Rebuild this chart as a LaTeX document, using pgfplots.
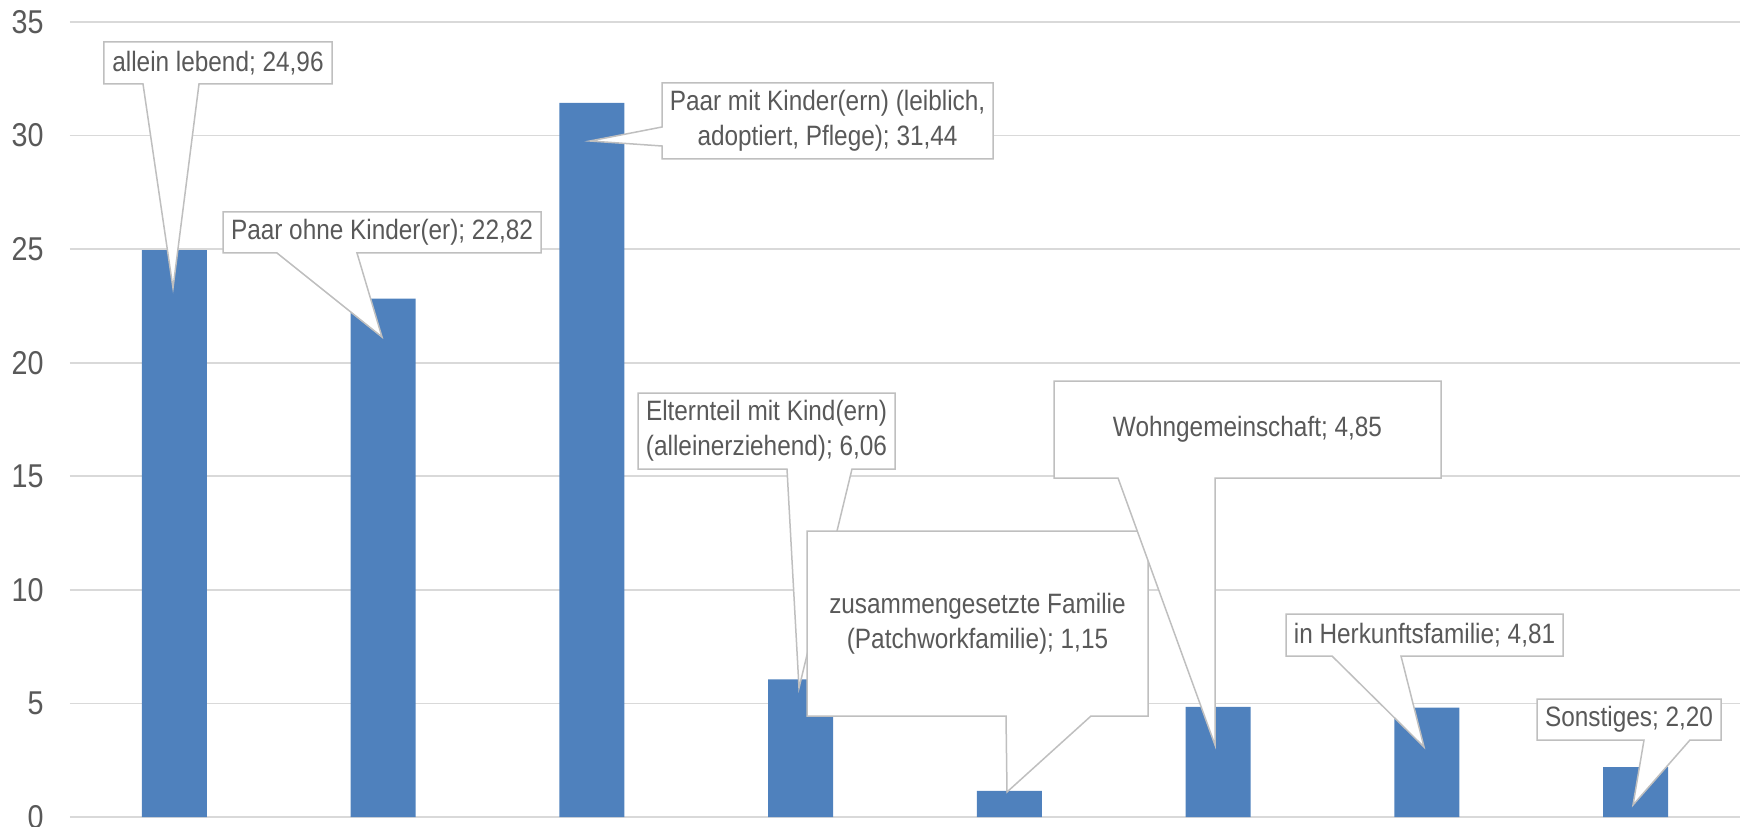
\documentclass[border=0pt]{standalone}
\usepackage{fontspec}
\setmainfont{Liberation Sans}[FakeStretch=0.87]
\usepackage{pgfplots}
\pgfplotsset{compat=1.18}
\definecolor{barblue}{HTML}{4F81BD}
\definecolor{txt}{HTML}{595959}
\definecolor{gridc}{HTML}{D9D9D9}
\definecolor{cob}{HTML}{BFBFBF}
\tikzset{
  co/.style={draw=cob, line width=0.75pt, fill=white, line join=miter},
  ct/.style={text=txt, font=\fontsize{14}{17.5}\selectfont, align=center, inner sep=0pt}
}
% bottom-pointer callout: x1,y1,x2,y2, base-left, base-right, tipx, tipy, text
\newcommand{\callbottom}[9]{%
  \draw[co] (#1,#2) -- (#3,#2) -- (#3,#4) -- (#6,#4) -- (#7,#8) -- (#5,#4) -- (#1,#4) -- cycle;
  \node[ct] at ({(#1+#3)/2},{(#2+#4)/2}) {#9};}
\begin{document}
\begin{tikzpicture}
\begin{axis}[
  scale only axis,
  width=835pt, height=397.5pt,
  xmin=-0.5, xmax=7.5,
  ymin=0, ymax=35,
  ytick={0,5,10,15,20,25,30,35},
  xtick=\empty,
  axis line style={draw=none},
  major tick length=0pt,
  ymajorgrids,
  grid style={gridc, line width=0.9pt},
  /pgf/number format/assume math mode=true,
  yticklabel style={text=txt, font=\fontsize{16.5}{19}\selectfont, anchor=east, inner sep=0pt, xshift=-13pt},
  clip=false,
]
\addplot[ybar, bar width=32.5pt, fill=barblue, draw=none] coordinates {
  (0,24.96) (1,22.82) (2,31.44) (3,6.06) (4,1.15) (5,4.85) (6,4.81) (7,2.20)
};
\end{axis}
\pgfresetboundingbox
\path[use as bounding box] (-35pt,-4.5pt) rectangle (835pt,408.5pt);
\begin{scope}[shift={(-35pt,408.5pt)}, x=0.5pt, y=-0.5pt]
\callbottom{104}{42}{332}{84}{143}{199}{173}{288}{allein lebend; 24,96}
\callbottom{223}{212}{541}{253}{277}{357}{382}{337}{Paar ohne Kinder(er); 22,82}
\draw[co] (662,83) -- (993,83) -- (993,159) -- (662,159) -- (662,146) -- (590,141) -- (662,127) -- cycle;
\node[ct] at (827.5,121) {Paar mit Kinder(ern) (leiblich,\\adoptiert, Pflege); 31,44};
\callbottom{638}{393}{895}{469}{787}{852}{799}{688}{Elternteil mit Kind(ern)\\(alleinerziehend); 6,06}
\callbottom{807}{531}{1148}{716}{1006}{1091}{1007}{792}{zusammengesetzte Familie\\(Patchworkfamilie); 1,15}
\callbottom{1054}{381}{1441}{478}{1118}{1215}{1215}{745}{Wohngemeinschaft; 4,85}
\callbottom{1286}{614}{1563}{656}{1332}{1401}{1424}{747}{in Herkunftsfamilie; 4,81}
\callbottom{1537}{699}{1721}{740}{1644}{1690}{1633}{805}{Sonstiges; 2,20}
\end{scope}
\end{tikzpicture}
\end{document}
